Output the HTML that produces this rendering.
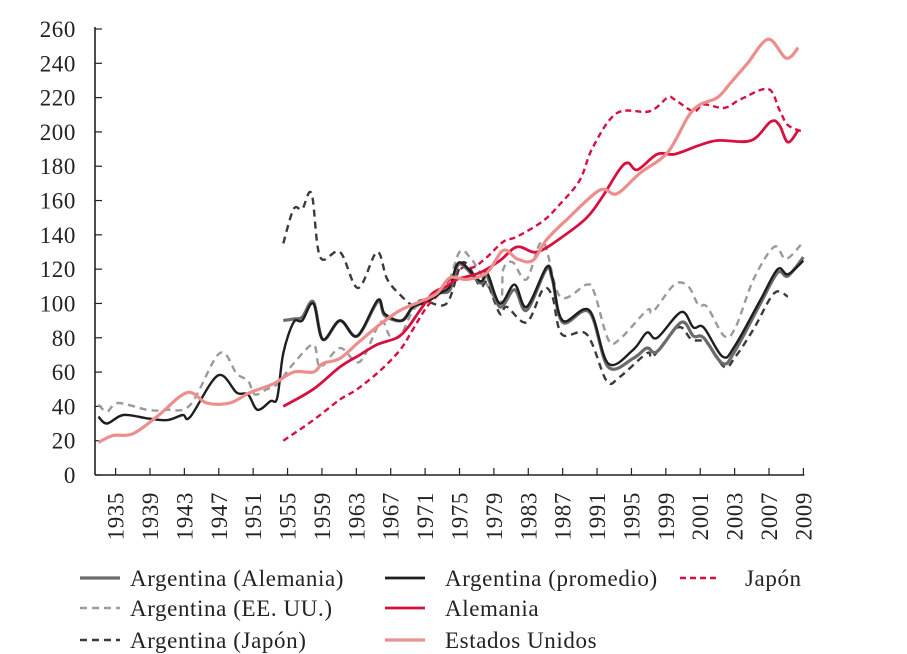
<!DOCTYPE html>
<html><head><meta charset="utf-8"><style>
html,body{margin:0;padding:0;background:#fff;}
svg{display:block;font-family:"Liberation Serif",serif;}
</style></head><body>
<svg id="chart" width="907" height="654" viewBox="0 0 907 654" xmlns="http://www.w3.org/2000/svg">
<g id="axes"></g>
<g id="series"></g>
<g id="legend"></g>
</svg>
<script>
const yTicks = [0,20,40,60,80,100,120,140,160,180,200,220,240,260];
const xTickLabels = [1935,1939,1943,1947,1951,1955,1959,1963,1967,1971,1975,1979,1983,1987,1991,1995,1999,2001,2003,2007,2009];

const promYears = [1933,1934,1935.9,1938.7,1941,1942.8,1943.7,1946.9,1949.1,1950.4,1951.5,1953,1953.8,1954.5,1955.7,1956.7,1958,1959.1,1961.1,1963.1,1965.5,1966.3,1968.3,1969.6,1971.2,1972.7,1973.9,1975,1977.4,1978.2,1979.7,1981.4,1982.8,1985.1,1985.8,1987,1990.1,1992.3,1995.2,1996.8,1998,1999.9,2000.6,2001.2,2002.3,2003,2006,2007.5,2008.1,2009];
const promVals  = [34,30,35,33,32,35,34,58,48,47,38,43,45,71,89,90,100,79,90,81,102,94,90,98,101,106,110,124,113,118,100,111,98,121,115,90,96,65,73,83,80,95,86,86,69,75,102,120,117,125];

const alemArgYears = [1954.5,1955.7,1956.7,1958,1959.1,1961.1,1963.1,1965.5,1966.3,1968.3,1969.6,1971.2,1972.7,1973.9,1975,1977.4,1978.2,1979.7,1981.4,1982.8,1985.1,1985.8,1987,1990.1,1992.3,1995.2,1996.8,1998,1999.9,2000.6,2001.2,2002.3,2003,2006,2007.5,2008.1,2009];
const alemArgVals  = [90,91,92,101,79,90,81,101,93,90,98,101,106,108,123,112,116,98,108,96,120,114,89,95,63,68,74,72,89,81,80,65,72,100,118,116,127];

const usaArgYears = [1933,1934,1935.3,1938.7,1941,1943.7,1947.1,1949.1,1950.4,1951.2,1952.6,1953.8,1955.7,1958,1958.8,1961.1,1963.4,1965.8,1966.9,1968.1,1969.6,1971.2,1973.5,1975,1976.2,1977.4,1979.7,1980.1,1981.2,1982.8,1984.7,1986.7,1989.8,1990.7,1992.3,1993.6,1996.8,1997.5,1999.5,2000.3,2000.9,2001.4,2002.4,2003.1,2005.2,2007.3,2008,2009];
const usaArgVals  = [41,37,42,38,38,41,71,59,55,47,50,53,65,76,63,74,66,89,81,81,96,102,110,130,127,118,100,120,124,114,136,104,111,106,79,79,96,95,111,110,99,98,81,86,114,133,126,136];

const japArgYears = [1954.5,1955.7,1956.7,1957.8,1958.8,1961.1,1963.2,1965.4,1966.6,1968.3,1969.6,1970.7,1973.5,1975.4,1977.4,1978.2,1979.7,1980.5,1982.8,1984.7,1985.8,1986.9,1989.8,1992.1,1993.6,1996.8,1997.5,1999.7,2000.5,2001.4,2002.4,2003.1,2005.2,2007.3,2008.1];
const japArgVals  = [135,155,155,164,127,130,109,130,114,104,99,102,100,124,110,112,94,98,89,108,104,82,82,55,57,71,69,86,79,77,63,69,85,106,104];

const japonYears = [1954.5,1958,1961.1,1963.1,1965.8,1968.1,1969.6,1971.2,1972.7,1973.5,1975.4,1976.6,1978.2,1980.1,1981.7,1984.7,1986.7,1989,1990.5,1993.3,1997.1,1999.1,1999.5,2000.6,2001.2,2002.4,2003.7,2006.9,2007.6,2008.1,2009];
const japonVals  = [20,32,44,50,61,73,85,98,106,112,121,121,127,136,139,148,158,172,191,211,212,220,219,212,216,214,219,225,213,204,200];

const alemYears = [1954.5,1958,1961.1,1963.4,1965.4,1967.7,1969,1970.4,1971.9,1973.5,1974.7,1977.4,1979.7,1981.7,1984,1987,1989.8,1991.6,1993.6,1994.6,1995.7,1998,1999.5,2000.9,2002,2004.9,2007.1,2007.6,2008.1,2008.7];
const alemVals  = [40,50,63,70,76,80,86,96,106,110,114,118,125,133,130,139,150,162,178,182,178,187,187,192,195,195,206,204,194,201];

const usaYears = [1933,1934.7,1937,1939.8,1943.3,1945.6,1948.3,1950.6,1953.3,1955.7,1958,1959.1,1961.1,1963.4,1965.8,1968.1,1970.4,1972.4,1973.9,1975.9,1978.2,1980.1,1981.7,1983.5,1985.1,1987.5,1991.3,1993.3,1996,1999.1,2000.3,2001,2002,2002.8,2004.5,2006.9,2008,2008.7];
const usaVals  = [19,23,24,34,48,42,42,48,53,60,60,65,68,78,88,96,101,106,115,114,118,131,126,125,137,149,166,164,176,188,209,216,220,229,240,254,243,249];

const svgNS = "http://www.w3.org/2000/svg";
const X0 = 115.6, X1 = 803.4, AXL = 95, Y0 = 475, PXU = 1.7154;
const FS = 23;
const step = (X1 - X0) / (xTickLabels.length - 1);
function xScale(yr){
  const t = xTickLabels;
  if (yr <= t[0]) return X0 + (yr - t[0]) * step / (t[1]-t[0]);
  for (let i=0;i<t.length-1;i++){
    if (yr <= t[i+1]) return X0 + i*step + (yr - t[i]) / (t[i+1]-t[i]) * step;
  }
  const n=t.length-1; return X0 + n*step + (yr - t[n]) * step / (t[n]-t[n-1]);
}
function yScale(v){ return Y0 - v * PXU; }
function mk(tag, attrs, parent){ const e=document.createElementNS(svgNS,tag); for(const k in attrs) e.setAttribute(k,attrs[k]); parent.appendChild(e); return e; }

const axes = document.getElementById('axes');
const yAxis = mk('line',{x1:AXL,y1:Y0,x2:AXL,y2:yScale(260)-2,stroke:'#222','stroke-width':1.6},axes);


const xAxis = mk('line',{x1:AXL,y1:Y0,x2:X1+1,y2:Y0,stroke:'#222','stroke-width':1.6},axes);


yTicks.forEach(v=>{
  const y=yScale(v);
  const tk=mk('line',{x1:AXL,y1:y,x2:AXL+7,y2:y,stroke:'#222','stroke-width':1.2},axes);
  
  
  const tx=mk('text',{x:76,y:y+8,'text-anchor':'end','font-size':FS,'letter-spacing':0.6,fill:'#222'},axes);
  tx.textContent=v;
  
  
});
xTickLabels.forEach((yr,i)=>{
  const x=xScale(yr);
  const tk=mk('line',{x1:x,y1:Y0,x2:x,y2:Y0-7,stroke:'#222','stroke-width':1.2},axes);
  
  
  const tx=mk('text',{x:0,y:0,'text-anchor':'end','font-size':FS,'letter-spacing':0.6,fill:'#222',transform:`translate(${x+8},492) rotate(-90)`},axes);
  tx.textContent=yr;
  
  
});

function pathFor(years, vals){
  const p = years.map((y,i)=>[xScale(y), yScale(vals[i])]);
  let d = `M${p[0][0].toFixed(1)},${p[0][1].toFixed(1)}`;
  for (let i=0;i<p.length-1;i++){
    const p0=p[Math.max(0,i-1)], p1=p[i], p2=p[i+1], p3=p[Math.min(p.length-1,i+2)];
    const c1=[p1[0]+(p2[0]-p0[0])/6, p1[1]+(p2[1]-p0[1])/6];
    const c2=[p2[0]-(p3[0]-p1[0])/6, p2[1]-(p3[1]-p1[1])/6];
    d += ` C${c1[0].toFixed(1)},${c1[1].toFixed(1)} ${c2[0].toFixed(1)},${c2[1].toFixed(1)} ${p2[0].toFixed(1)},${p2[1].toFixed(1)}`;
  }
  return d;
}
const seriesG = document.getElementById('series');
const seriesDefs = [
  {name:'series-argentina-eeuu', y:usaArgYears, v:usaArgVals, c:'#9a9a9a', w:2.4, dash:'7 5'},
  {name:'series-argentina-japon', y:japArgYears, v:japArgVals, c:'#3a3a3a', w:2.4, dash:'7 5'},
  {name:'series-japon', y:japonYears, v:japonVals, c:'#d8103f', w:2.4, dash:'6 4'},
  {name:'series-argentina-alemania', y:alemArgYears, v:alemArgVals, c:'#6b6b6b', w:3.2, dash:''},
  {name:'series-argentina-promedio', y:promYears, v:promVals, c:'#1e1e1e', w:2.4, dash:''},
  {name:'series-alemania', y:alemYears, v:alemVals, c:'#d8103f', w:2.8, dash:''},
  {name:'series-estados-unidos', y:usaYears, v:usaVals, c:'#ec8e8c', w:3.2, dash:''}
];
seriesDefs.forEach(s=>{
  const el = mk('path',{d:pathFor(s.y,s.v),fill:'none',stroke:s.c,'stroke-width':s.w,'stroke-linejoin':'round','stroke-linecap':'butt'},seriesG);
  if (s.dash) el.setAttribute('stroke-dasharray',s.dash);
  
  
});

const legendItems = [
  {label:'Argentina (Alemania)', c:'#6b6b6b', w:3.2, dash:'', x:80, y:578, tx:130},
  {label:'Argentina (EE. UU.)', c:'#9a9a9a', w:2.4, dash:'7 5', x:80, y:608, tx:130},
  {label:'Argentina (Japón)', c:'#3a3a3a', w:2.4, dash:'7 5', x:80, y:640, tx:130},
  {label:'Argentina (promedio)', c:'#1e1e1e', w:2.8, dash:'', x:385, y:578, tx:445},
  {label:'Alemania', c:'#d8103f', w:2.8, dash:'', x:385, y:608, tx:445},
  {label:'Estados Unidos', c:'#ec8e8c', w:3.2, dash:'', x:385, y:640, tx:445},
  {label:'Japón', c:'#d8103f', w:2.6, dash:'6 4', x:680, y:578, tx:745}
];
const lg = document.getElementById('legend');
legendItems.forEach(it=>{
  const g = mk('g',{},lg);
  
  
  const ln = mk('line',{x1:it.x,y1:it.y,x2:it.x+40,y2:it.y,stroke:it.c,'stroke-width':it.w},g);
  if (it.dash) ln.setAttribute('stroke-dasharray',it.dash);
  
  
  const t = mk('text',{x:it.tx,y:it.y+8,'font-size':FS,'letter-spacing':0.6,fill:'#222'},g);
  t.textContent = it.label;
  
  
});
</script>
</body></html>
